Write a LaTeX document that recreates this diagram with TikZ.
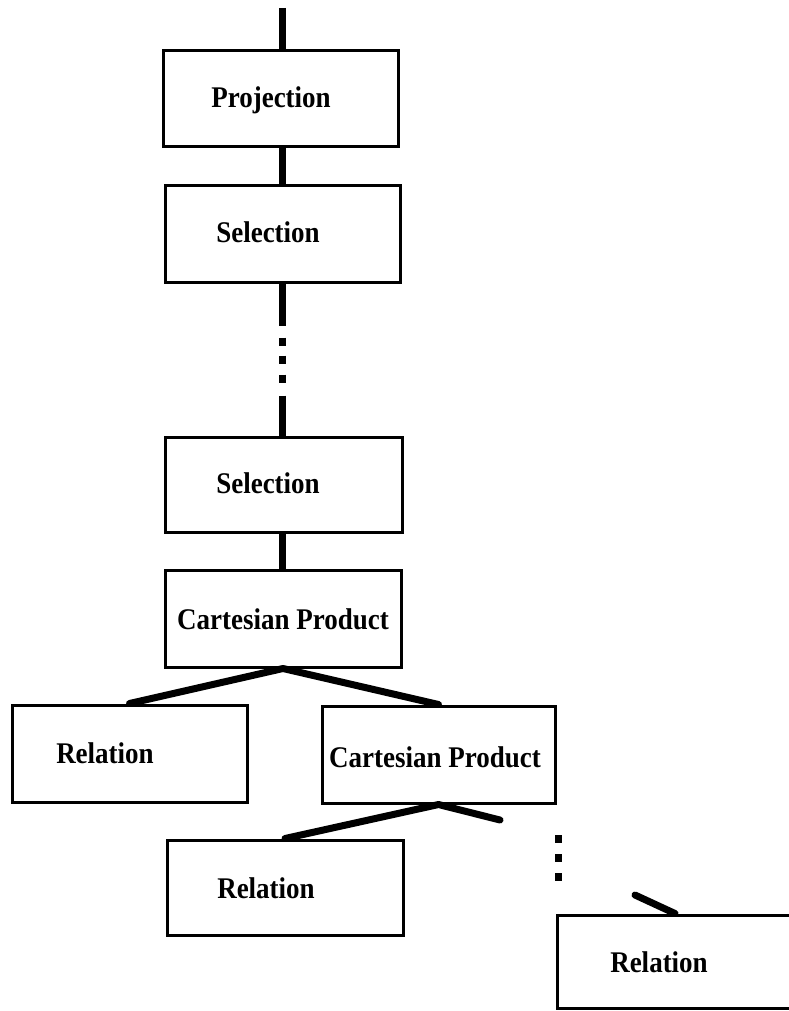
\documentclass[tikz,border=0pt]{standalone}
\usepackage{fontspec}
\setmainfont{Liberation Serif}[FakeStretch=0.9]
\begin{document}
\begin{tikzpicture}[x=1pt,y=-1pt,
  opbox/.style={draw,line width=3pt,inner sep=0pt,minimum width=235pt,minimum height=96pt},
  lbl/.style={anchor=base,inner sep=0pt,font=\fontsize{30}{30}\selectfont\bfseries},
  edge/.style={line width=7pt},
  branch/.style={line width=7pt,line cap=round,line join=round}]
\useasboundingbox (0,0) rectangle (788,1011);

% operator boxes of the query tree
\node[opbox] (proj) at (280.5,98.5) {};
\node[opbox] (sel1) at (282.5,234) {};
\node[opbox,minimum width=237pt,minimum height=95pt] (sel2) at (283.5,484.5) {};
\node[opbox,minimum width=236pt,minimum height=97pt] (cp1) at (283,618.5) {};
\node[opbox,minimum height=97pt] (relL) at (129.5,753.5) {};
\node[opbox,minimum width=233pt,minimum height=97pt] (cp2) at (438.5,754.5) {};
\node[opbox,minimum width=236pt,minimum height=95pt] (relM) at (285,887.5) {};
\node[opbox,minimum width=236pt,minimum height=93pt] (relR) at (675,961.5) {};

% labels
\node[lbl] (projT) at (271,108) {Projection};
\node[lbl] (sel1T) at (268,242) {Selection};
\node[lbl] (sel2T) at (268,493) {Selection};
\node[lbl] (cp1T) at (283,629) {Cartesian Product};
\node[lbl] (relLT) at (105,763) {Relation};
\node[lbl] (cp2T) at (435,767) {Cartesian Product};
\node[lbl] (relMT) at (266,898) {Relation};
\node[lbl] (relRT) at (659,972) {Relation};

% free ends
\coordinate (top) at (282,8);
\coordinate (cp2r) at (500,820);
\coordinate (dotsA) at (558,835);
\coordinate (dotsB) at (558,881);
\coordinate (relRin) at (635,895);

% vertical links
\draw[edge] (top) -- (proj.north -| top);
\draw[edge] (proj.south -| top) -- (sel1.north -| top);
\draw[edge,dash pattern=on 42pt off 12pt on 8pt off 10pt on 8pt off 11pt on 8pt off 13pt on 42pt]
  (sel1.south -| top) -- (sel2.north -| top);
\draw[edge] (sel2.south -| top) -- (cp1.north -| top);

% branches below the products
\draw[branch] (relL.north) -- (cp1.south) -- (cp2.north);
\draw[branch] (relM.north) -- (cp2.south) -- (cp2r);
\draw[edge,dash pattern=on 8pt off 11pt] (dotsA) -- (dotsB);
\draw[branch] (relRin) -- (relR.north);
\end{tikzpicture}
\end{document}
